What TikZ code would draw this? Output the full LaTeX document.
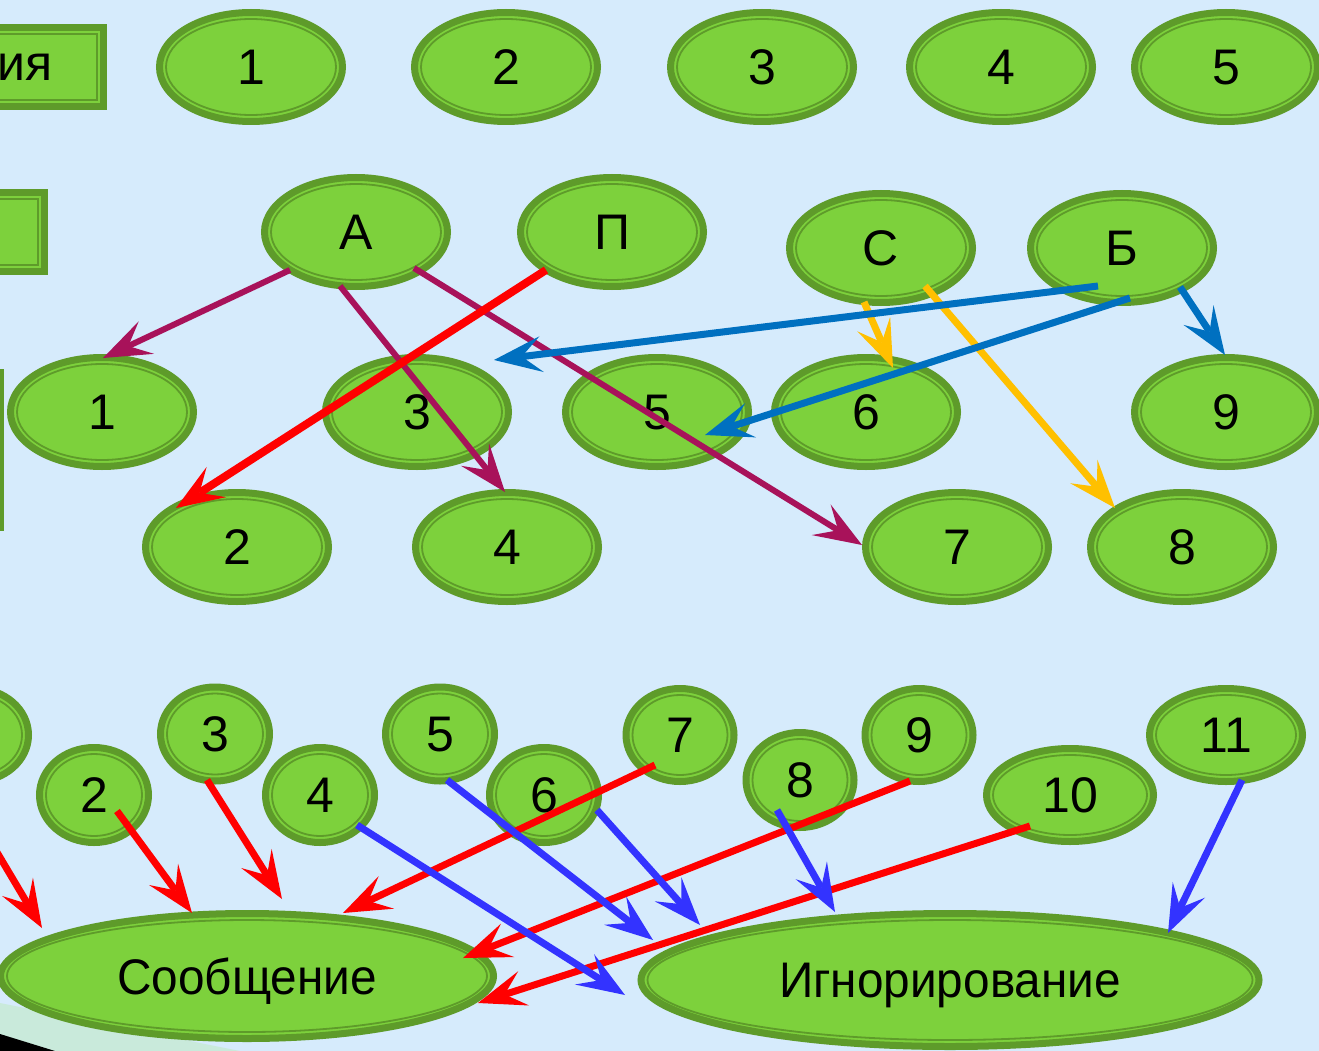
\documentclass[tikz,border=0pt]{standalone}
\usepackage{fontspec}
\setmainfont{Liberation Sans}
\newfontfamily\narrowfont[FakeStretch=0.955]{Liberation Sans}
\usetikzlibrary{shapes.geometric,arrows.meta,calc}
\definecolor{bg}{HTML}{D6EBFC}
\definecolor{dgreen}{HTML}{5E9B2A}
\definecolor{lgreen}{HTML}{7DD13C}
\definecolor{purp}{HTML}{A8125A}
\definecolor{bl}{HTML}{0070C0}
\definecolor{yel}{HTML}{FFC000}
\definecolor{bblue}{HTML}{3333FF}
\definecolor{mint}{HTML}{C9EADB}
\newcommand\ovn[6]{%
  \node[oval, minimum width={2*#4*1pt}, minimum height={2*#5*1pt}] (#1) at (#2,#3) {#6};
  \draw[inl] (#1.center) ellipse [x radius={(#4-6.5)*1pt}, y radius={(#5-6.5)*1pt}];}
\newcommand\rcn[6]{%
  \node[box, minimum width={2*#4*1pt}, minimum height={2*#5*1pt}] (#1) at (#2,#3) {#6};
  \draw[inl] ($(#1.center)+(-#4+6.5,-#5+6.5)$) rectangle ($(#1.center)+(#4-6.5,#5-6.5)$);}
\begin{document}
\begin{tikzpicture}[x=1pt,y=-1pt,
  oval/.style={ellipse, draw=dgreen, fill=lgreen, line width=7pt, inner sep=0pt,
    text depth=0pt, font=\fontsize{50}{60}\selectfont, text=black},
  box/.style={rectangle, draw=dgreen, fill=lgreen, line width=7pt, inner sep=0pt,
    text depth=0pt, font=\fontsize{50}{60}\selectfont, text=black},
  inl/.style={draw=dgreen, line width=1.8pt},
  con/.style={line width=7pt, -{Stealth[length=48pt,width=36pt,inset=20pt,line width=0pt]}},
  thin/.style={line width=6pt},
  thick/.style={line width=8pt},
]
\useasboundingbox (0,0) rectangle (1319,1051);
\clip (0,0) rectangle (1319,1051);
\fill[bg] (0,0) rectangle (1319,1051);
\fill[mint] (0,1003) -- (240,1051) -- (0,1051) -- cycle;
\fill[black] (0,1034) -- (55,1051) -- (0,1051) -- cycle;

% top row
\rcn{r1}{25}{67}{78.5}{39.5}{ия}
\ovn{t1}{251}{67}{91.5}{54.5}{1}
\ovn{t2}{506}{67}{91.5}{54.5}{2}
\ovn{t3}{762}{67}{91.5}{54.5}{3}
\ovn{t4}{1001}{67}{91.5}{54.5}{4}
\ovn{t5}{1226}{67}{91.5}{54.5}{5}

% second row
\rcn{r2}{-50}{232}{94.5}{39.5}{}
\ovn{A}{356}{232}{91.5}{54.5}{А}
\ovn{P}{612}{232}{91.5}{54.5}{П}
\ovn{C}{881}{248}{91.5}{54.5}{С}
\ovn{B}{1122}{248}{91.5}{54.5}{Б}

% third/fourth rows
\rcn{r3}{-95}{450}{95}{77.5}{}
\ovn{m1}{102}{412}{91.5}{54.5}{1}
\ovn{m3}{417}{412}{91.5}{54.5}{3}
\ovn{m5}{657}{412}{91.5}{54.5}{5}
\ovn{m6}{866}{412}{91.5}{54.5}{6}
\ovn{m9}{1226}{412}{91.5}{54.5}{9}
\ovn{m2}{237}{547}{91.5}{54.5}{2}
\ovn{m4}{507}{547}{91.5}{54.5}{4}
\ovn{m7}{957}{547}{91.5}{54.5}{7}
\ovn{m8}{1182}{547}{91.5}{54.5}{8}

% bottom part
\ovn{b1}{-25}{735}{53.5}{46.5}{}
\ovn{b2}{94}{795}{54.5}{47.5}{2}
\ovn{b3}{215}{734}{54.5}{47}{3}
\ovn{b4}{320}{795}{54.5}{47.5}{4}
\ovn{b5}{440}{734}{54.5}{47}{5}
\ovn{b6}{544}{795}{54.5}{47.5}{6}
\ovn{b7}{680}{735}{54}{46.5}{7}
\ovn{b8}{800}{780}{54}{47.5}{8}
\ovn{b9}{919}{735}{54}{46.5}{9}
\ovn{b10}{1070}{795}{83.5}{46.5}{10}
\ovn{b11}{1226}{735}{76.5}{46.5}{11}
\ovn{S}{247}{976}{246.5}{62.5}{\narrowfont Сообщение}
\ovn{I}{950}{980}{309}{66.5}{\narrowfont Игнорирование}

% connectors, upper part
\draw[con, thin, purp] ($(A)+(-66,38)$) -- ($(m1)+(1,-54)$);
\draw[con, thin, purp] ($(A)+(-16,54)$) -- ($(m4)+(-2,-55)$);
\draw[con, thin, purp] ($(A)+(58,36)$) -- ($(m7)+(-95,-2)$);
\draw[con, thick, red] ($(P)+(-66,38)$) -- ($(m2)+(-61,-39)$);
\draw[con, yel] ($(C)+(-17,54)$) -- ($(m6)+(27,-44)$);
\draw[con, yel] ($(C)+(44,38)$) -- ($(m8)+(-67,-39)$);
\draw[con, bl] ($(B)+(-24,38)$) -- ($(m3)+(77,-52)$);
\draw[con, bl] ($(B)+(8,50)$) -- ($(m5)+(48,23)$);
\draw[con, bl] ($(B)+(58,39)$) -- ($(m9)+(-1,-57)$);

% connectors, lower part
\draw[con, red] ($(b1)+(-18,50)$) -- ($(S)+(-205,-48)$);
\draw[con, red] ($(b2)+(23,16)$) -- ($(S)+(-55,-63)$);
\draw[con, red] ($(b3)+(-8,46)$) -- ($(S)+(35,-77)$);
\draw[con, red] ($(b7)+(-25,30)$) -- ($(S)+(96,-63)$);
\draw[con, red] ($(b9)+(-9,46)$) -- ($(S)+(216,-18)$);
\draw[con, red] ($(b10)+(-40,31)$) -- ($(S)+(231,27)$);
\draw[con, bblue] ($(b4)+(37,30)$) -- ($(I)+(-325,15)$);
\draw[con, bblue] ($(b5)+(7,46)$) -- ($(I)+(-297,-40)$);
\draw[con, bblue] ($(b6)+(53,15)$) -- ($(I)+(-250,-55)$);
\draw[con, bblue] ($(b8)+(-23,30)$) -- ($(I)+(-115,-68)$);
\draw[con, bblue] ($(b11)+(16,45)$) -- ($(I)+(218,-47)$);
\end{tikzpicture}
\end{document}
